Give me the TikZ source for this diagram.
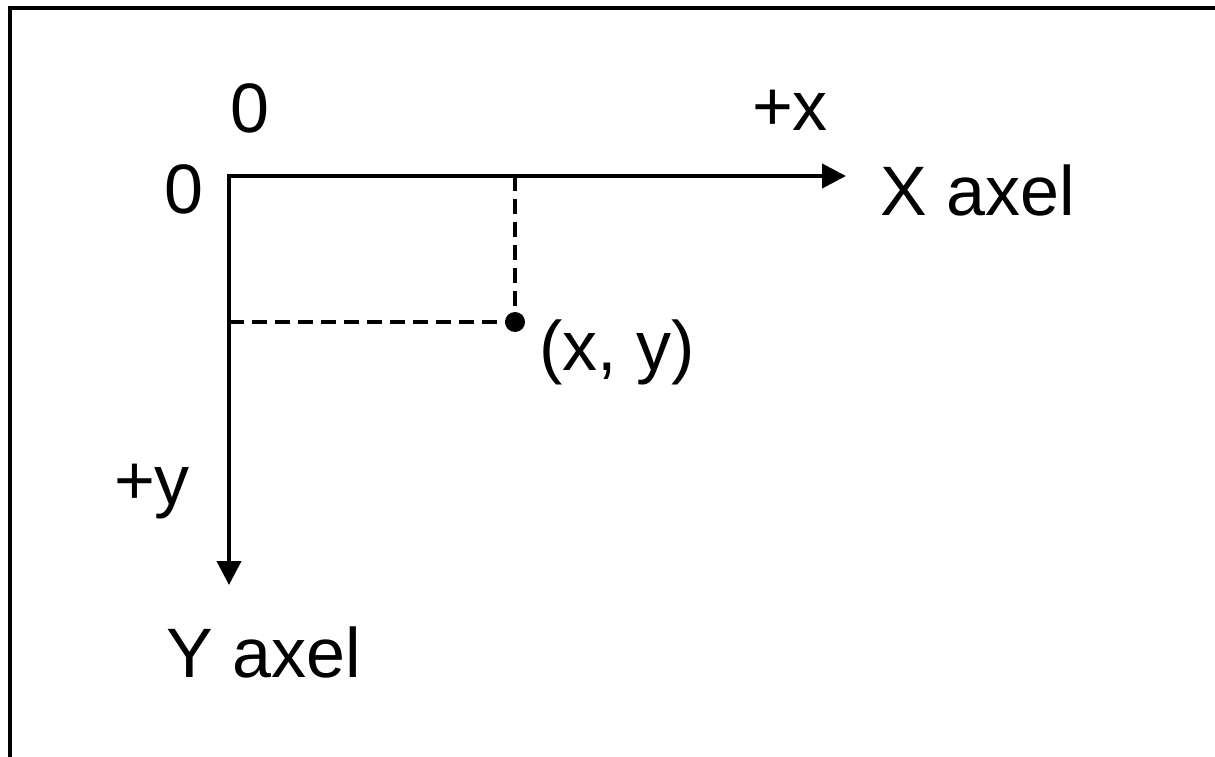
\documentclass[tikz,border=0pt]{standalone}
\usepackage{fontspec}
\setmainfont{Liberation Sans}
\usetikzlibrary{arrows.meta}
\begin{document}
\begin{tikzpicture}[x=1pt,y=-1pt,
  axis/.style={line width=4pt,-{Triangle[length=24pt,width=24pt]}},
  guide/.style={line width=4pt,dash pattern=on 15pt off 8pt},
  lbl/.style={font=\fontsize{70}{82}\selectfont,inner sep=0pt},
  frame/.style={line width=4pt}]
\useasboundingbox (0,0) rectangle (1215,757);
\draw[frame] (10,757) -- (10,8) -- (1215,8);
\coordinate (O) at (229,176);
\coordinate (P) at (515,322);
\coordinate (Px) at (515,176);
\coordinate (Py) at (229,322);
\coordinate (Xend) at (846,176);
\coordinate (Yend) at (229,585);
\draw[axis] ([xshift=-2pt]O) -- (Xend);
\draw[axis] ([yshift=-2pt]O) -- (Yend);
\draw[guide] (Px) -- (P);
\draw[guide] (Py) -- (P);
\fill (P) circle (10pt);
\node[lbl] (zx) at (250,108) {0};
\node[lbl] (px) at (790,110) {+x};
\node[lbl] (zy) at (184,189) {0};
\node[lbl] (xl) at (978,190) {X axel};
\node[lbl] (pt) at (617,352) {(x, y)};
\node[lbl] (py) at (152,492) {+y};
\node[lbl] (yl) at (264,652) {Y axel};
\end{tikzpicture}
\end{document}
